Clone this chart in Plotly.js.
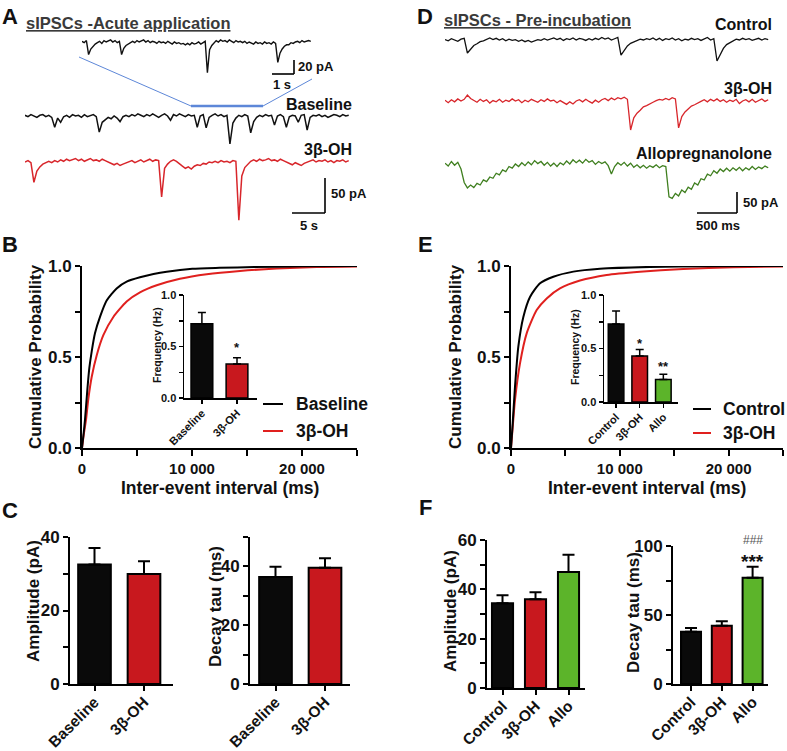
<!DOCTYPE html>
<html><head><meta charset="utf-8">
<script src="https://cdn.plot.ly/plotly-3.0.1.min.js"></script>
<style>html,body{margin:0;padding:0;background:#fff}#chart{width:787px;height:751px}</style>
</head><body><div id="chart"></div>
<script>
// ---------------- DATA ----------------
// Panel A: traces (pA relative to holding baseline), sampled at fixed steps
const dtInsetA = 0.1;   // s
const insetA = [1,-1,2,-18,-10,-6,-3,-1,1,-2,2,0,1,3,0,2,-1,1,-18,-9,-5,-3,-1,1,-1,2,0,1,3,0,2,-1,1,0,-2,1,-1,0,-2,1,-1,-3,0,-2,-1,-3,-2,-4,-2,-4,-1,-3,-2,0,-3,-1,1,-44,-11,-5,-1,2,0,3,1,2,0,3,1,-1,2,0,1,-1,1,-2,0,-1,-3,0,-2,-1,-3,0,-2,-1,-3,0,-2,-29,-16,-10,-6,-4,-4,-1,-2,0,1,-1,2,0,1,2,1];
const dtA = 0.45;       // s
const baselineA = [1,-1,2,0,-2,1,2,-1,1,-2,-16,-3,-9,-1,1,-2,2,0,1,-2,2,-1,0,2,-1,-23,-9,-6,-2,-4,0,-3,-8,-1,1,-1,2,0,3,1,-1,2,0,3,1,-2,1,3,0,-6,2,0,3,1,-1,2,0,1,-16,0,2,-17,-2,1,3,0,2,-1,1,-40,-10,-3,1,-1,2,0,-24,-8,-2,1,-1,2,0,1,-13,0,2,-1,-16,-1,1,0,-9,1,2,-20,-2,1,0,2,-1,1,-2,0,2,1,-1,2,0,1];
const betaA = [0,2,-1,-29,-13,-7,-3,-1,1,-1,2,0,3,1,4,2,3,5,2,4,1,3,5,2,3,1,4,2,0,-2,-4,-2,-5,-3,-1,0,2,-1,1,3,0,2,4,1,3,2,-50,-9,-3,1,3,1,-3,-6,-9,-7,-10,-6,-4,-5,-2,-3,0,-1,1,-1,2,0,1,-1,2,1,-83,-20,-8,-3,1,3,1,4,2,3,5,2,3,1,4,2,0,-2,-4,-1,-3,-5,-2,0,1,3,0,2,1,3,0,2,-1,2,1,3,0,2];
// Panel D: traces
const dtD = 0.04;       // s
const controlD = [1,-2,3,0,-3,2,4,-31,-21,-13,-9,-4,-2,2,5,1,4,0,3,-2,2,-1,1,-3,0,-4,-1,-5,-2,1,-1,3,0,2,5,1,4,-1,3,1,5,0,4,2,-1,3,0,4,1,6,2,5,0,3,6,-36,-24,-14,-8,-4,-1,2,0,3,1,5,0,4,-1,3,1,5,0,3,-2,2,0,4,1,3,-1,2,6,0,3,-50,-33,-20,-11,-6,-2,2,0,4,1,3,-1,2,4,0,3,1];
const betaD = [2,-4,3,-2,5,0,4,14,6,2,-3,4,-1,3,-5,1,-2,4,-3,2,-1,5,0,3,-4,2,-2,4,0,-3,3,-1,5,0,2,-4,1,-3,-8,-2,-7,0,3,-2,4,-1,-5,2,-3,3,6,1,7,3,8,5,9,4,-69,-40,-29,-22,-14,-11,-6,-3,1,4,2,6,3,8,5,-64,-37,-26,-19,-12,-9,-4,-1,3,-2,4,0,5,-1,3,-3,2,-1,4,-6,0,3,-2,4,-3,2,5,-1,3];
const alloD = [2,-5,6,-3,4,-12,-44,-57,-50,-56,-46,-50,-38,-42,-31,-34,-22,-26,-14,-18,-6,-10,0,-6,3,-4,5,-2,8,1,6,-3,4,-5,2,-6,3,-2,7,0,10,3,9,2,11,4,8,-1,6,1,5,-4,-24,-6,3,-3,4,-5,2,-8,-2,-9,-3,-10,-4,-8,-2,-9,-4,-6,-78,-82,-70,-76,-62,-68,-55,-60,-45,-50,-35,-38,-24,-28,-16,-22,-12,-18,-10,-17,-9,-15,-8,-16,-9,-14,-6,-13,-7,-11,-5,-9];

// Panels B & E: cumulative probability of inter-event interval (ms)
const cumB_base_x = [0,130,270,485,667,880,1180,1636,2242,3150,4060,5270,6500,7700,10030,12500,15650,20000,25000];
const cumB_base_y = [0,0.07,0.154,0.32,0.44,0.53,0.63,0.72,0.81,0.877,0.914,0.938,0.956,0.969,0.985,0.99,0.994,0.998,1.0];
const cumB_beta_x = [0,150,364,576,880,1340,1940,2850,4060,5270,6790,8900,11340,14360,17700,21330,25000];
const cumB_beta_y = [0,0.07,0.154,0.27,0.39,0.51,0.62,0.72,0.805,0.855,0.894,0.93,0.955,0.973,0.986,0.994,0.997];
const cumE_ctrl_x = [0,150,368,674,1134,1746,2665,3890,5730,8180,12775,18000,25000];
const cumE_ctrl_y = [0,0.13,0.337,0.557,0.72,0.83,0.905,0.941,0.969,0.985,0.995,0.998,1.0];
const cumE_beta_x = [0,150,368,827,1440,2360,3280,4500,6340,8790,11850,15830,20430,25000];
const cumE_beta_y = [0,0.11,0.264,0.465,0.63,0.758,0.822,0.877,0.92,0.951,0.969,0.984,0.993,0.997];

// Inset frequency bars
const freqCatsB = ['Baseline','3β-OH'];
const freqB = [0.72,0.33];
const freqErrB = [0.11,0.06];
const freqCatsE = ['Control','3β-OH','Allo'];
const freqE = [0.73,0.43,0.21];
const freqErrE = [0.12,0.06,0.05];

// Panel C
const catsC = ['Baseline','3β-OH'];
const ampC = [32.5,29.9];
const ampErrC = [4.5,3.5];
const tauC = [36.4,39.5];
const tauErrC = [3.5,3.3];
// Panel F
const catsF = ['Control','3β-OH','Allo'];
const ampF = [34.4,36.0,47.0];
const ampErrF = [3.2,2.8,7.0];
const tauF = [37.8,42.2,77.0];
const tauErrF = [2.7,3.3,8.0];

// ---------------- LAYOUT HELPERS ----------------
const W = 787, H = 751;
const FONT = 'Liberation Sans, Arial, Helvetica, sans-serif';
const BLACK = '#0a0a0a', RED = '#c8181e', GREEN = '#5cb42a';
const RED_LINE = '#e0201e', RED_TRACE = '#d8262b', GREEN_TRACE = '#3f7f1f';
function dx(a,b){return [a/W, b/W];}
function dy(top,bottom){return [1-bottom/H, 1-top/H];}
function times(n,dt){const t=[];for(let i=0;i<n;i++)t.push(+(i*dt).toFixed(4));return t;}
function hiddenAxis(domain, range, anchor){
  return {domain, range, anchor, visible:false, showgrid:false, zeroline:false, fixedrange:true};
}
function zeros(n){return new Array(n).fill(0);}

const data = [];
const layout = {
  width: W, height: H, margin:{l:0,r:0,t:0,b:0},
  paper_bgcolor:'#fff', plot_bgcolor:'rgba(0,0,0,0)', showlegend:false,
  annotations: [], shapes: []
};

// ----- Panel A traces -----
layout.xaxis  = hiddenAxis(dx(82,312), [0, 230/22], 'y');
layout.yaxis  = hiddenAxis(dy(28,80), [-38/0.7, 14/0.7], 'x');
data.push({type:'scatter', mode:'lines', x: times(insetA.length, dtInsetA), y: insetA,
  xaxis:'x', yaxis:'y', line:{color:'#111', width:1.4}, hoverinfo:'skip'});

layout.xaxis2 = hiddenAxis(dx(25,352), [0, 327/6.6], 'y2');
layout.yaxis2 = hiddenAxis(dy(100,150), [-34/0.7, 16/0.7], 'x2');
data.push({type:'scatter', mode:'lines', x: times(baselineA.length, dtA), y: baselineA,
  xaxis:'x2', yaxis:'y2', line:{color:'#111', width:1.5}, hoverinfo:'skip'});

layout.xaxis3 = hiddenAxis(dx(25,352), [0, 327/6.6], 'y3');
layout.yaxis3 = hiddenAxis(dy(150,228), [-66/0.7, 12/0.7], 'x3');
data.push({type:'scatter', mode:'lines', x: times(betaA.length, dtA), y: betaA,
  xaxis:'x3', yaxis:'y3', line:{color:RED_TRACE, width:1.5}, hoverinfo:'skip'});

// ----- Panel D traces -----
layout.xaxis4 = hiddenAxis(dx(445,772), [0, 327/80], 'y4');
layout.yaxis4 = hiddenAxis(dy(28,68), [-28/0.42, 12/0.42], 'x4');
data.push({type:'scatter', mode:'lines', x: times(controlD.length, dtD), y: controlD,
  xaxis:'x4', yaxis:'y4', line:{color:'#111', width:1.3}, hoverinfo:'skip'});
layout.xaxis5 = hiddenAxis(dx(445,772), [0, 327/80], 'y5');
layout.yaxis5 = hiddenAxis(dy(88,135), [-34/0.42, 13/0.42], 'x5');
data.push({type:'scatter', mode:'lines', x: times(betaD.length, dtD), y: betaD,
  xaxis:'x5', yaxis:'y5', line:{color:RED_TRACE, width:1.3}, hoverinfo:'skip'});
layout.xaxis6 = hiddenAxis(dx(445,772), [0, 327/80], 'y6');
layout.yaxis6 = hiddenAxis(dy(140,228), [-64/0.42, 24/0.42], 'x6');
data.push({type:'scatter', mode:'lines', x: times(alloD.length, dtD), y: alloD,
  xaxis:'x6', yaxis:'y6', line:{color:GREEN_TRACE, width:1.3}, hoverinfo:'skip'});

// scale bars (in trace data coords)
function scaleBar(xr, yr, x0, x1, y0, y1){
  layout.shapes.push({type:'line', xref:xr, yref:yr, x0:x1, x1:x1, y0:y0, y1:y1, line:{color:'#000', width:1.6}});
  layout.shapes.push({type:'line', xref:xr, yref:yr, x0:x0, x1:x1, y0:y1, y1:y1, line:{color:'#000', width:1.6}});
}
scaleBar('x','y', (294-82)/22-1, (294-82)/22, -(60-42)/0.7, -(60-42)/0.7-20);
scaleBar('x3','y3', (325-25)/6.6-5, (325-25)/6.6, -(178-162)/0.7, -(178-162)/0.7-50);
scaleBar('x6','y6', (737-445)/80-0.5, (737-445)/80, -(192-164)/0.42, -(192-164)/0.42-50);

// blue zoom lines
const BLUE = '#5d87d8';
function pline(x0,y0,x1,y1,w,c){layout.shapes.push({type:'line',xref:'paper',yref:'paper',x0:x0/W,x1:x1/W,y0:1-y0/H,y1:1-y1/H,line:{color:c,width:w}});}
pline(79,57,191,106,1,BLUE);
pline(312,79,263,106,1,BLUE);
pline(191,106,263,106,2.6,BLUE);

// ----- Panels B & E cumulative -----
function mainAxes(xd, yd){
  const ax = {domain:xd, range:[0,25000], showline:true, linewidth:2, linecolor:'#000', mirror:false,
    ticks:'outside', ticklen:6, tickwidth:2, tickcolor:'#000', showgrid:false, zeroline:false, fixedrange:true,
    tickmode:'array', tickvals:[0,10000,20000], ticktext:['0','10 000','20 000'],
    minor:{tickmode:'linear', tick0:0, dtick:5000, ticks:'outside', ticklen:6, tickwidth:2, tickcolor:'#000'},
    tickfont:{family:FONT, size:15, color:'#111', weight:700}};
  const ay = {domain:yd, range:[0,1], showline:true, linewidth:2, linecolor:'#000',
    ticks:'outside', ticklen:5, tickwidth:2, tickcolor:'#000', showgrid:false, zeroline:false, fixedrange:true,
    tickmode:'linear', tick0:0, dtick:0.5, tickformat:'.1f',
    minor:{tickmode:'linear', tick0:0, dtick:0.25, ticks:'outside', ticklen:5, tickwidth:2, tickcolor:'#000'},
    tickfont:{family:FONT, size:17, color:'#111', weight:700}};
  return [ax, ay];
}
[layout.xaxis7, layout.yaxis7] = mainAxes(dx(82,357), dy(266,448));
layout.xaxis7.anchor='y7'; layout.yaxis7.anchor='x7';
[layout.xaxis8, layout.yaxis8] = mainAxes(dx(511,783), dy(266,448));
layout.xaxis8.anchor='y8'; layout.yaxis8.anchor='x8';

data.push({type:'scatter', mode:'lines', x:cumB_beta_x, y:cumB_beta_y, xaxis:'x7', yaxis:'y7',
  line:{color:RED_LINE, width:2, shape:'spline', smoothing:0.6}, hoverinfo:'skip'});
data.push({type:'scatter', mode:'lines', x:cumB_base_x, y:cumB_base_y, xaxis:'x7', yaxis:'y7',
  line:{color:'#000', width:2, shape:'spline', smoothing:0.6}, hoverinfo:'skip'});
data.push({type:'scatter', mode:'lines', x:cumE_beta_x, y:cumE_beta_y, xaxis:'x8', yaxis:'y8',
  line:{color:RED_LINE, width:2, shape:'spline', smoothing:0.6}, hoverinfo:'skip'});
data.push({type:'scatter', mode:'lines', x:cumE_ctrl_x, y:cumE_ctrl_y, xaxis:'x8', yaxis:'y8',
  line:{color:'#000', width:2, shape:'spline', smoothing:0.6}, hoverinfo:'skip'});

// ----- Bar chart helper -----
function barAxes(xd, yd, xr, yr, dtick, minorDtick, tickSize, xTickSize, lw, tl, standoff){
  const ax = {domain:xd, range:xr, type:'category', showline:true, linewidth:lw, linecolor:'#000',
    ticks:'outside', ticklen:tl, tickwidth:lw, tickcolor:'#000', showgrid:false, zeroline:false, fixedrange:true,
    tickangle:-45, ticklabelstandoff:standoff, tickfont:{family:FONT, size:xTickSize, color:'#111', weight:700}};
  const ay = {domain:yd, range:yr, showline:true, linewidth:lw, linecolor:'#000',
    ticks:'outside', ticklen:tl, tickwidth:lw, tickcolor:'#000', showgrid:false, zeroline:false, fixedrange:true,
    tickmode:'linear', tick0:0, dtick:dtick,
    minor:{tickmode:'linear', tick0:0, dtick:minorDtick, ticks:'outside', ticklen:tl, tickwidth:lw, tickcolor:'#000'},
    tickfont:{family:FONT, size:tickSize, color:'#111', weight:700}};
  return [ax, ay];
}
function barTrace(cats, vals, errs, colors, xa, ya, width, lw, capw){
  return {type:'bar', x:cats, y:vals, xaxis:xa, yaxis:ya, width:width,
    marker:{color:colors, line:{color:'#000', width:lw}},
    error_y:{type:'data', array:errs, arrayminus:zeros(errs.length), symmetric:false, color:'#000', thickness:lw, width:capw},
    hoverinfo:'skip'};
}

// Inset B
[layout.xaxis9, layout.yaxis9] = barAxes(dx(184,257), dy(295,398), [-0.51,1.57], [0,1], 0.5, 0.25, 11, 11, 1.5, 4, -1);
layout.xaxis9.anchor='y9'; layout.yaxis9.anchor='x9'; layout.yaxis9.tickformat='.1f';
data.push(barTrace(freqCatsB, freqB, freqErrB, [BLACK, RED], 'x9','y9', 0.62, 1.5, 4));
// Inset E
[layout.xaxis10, layout.yaxis10] = barAxes(dx(604,678), dy(295,402), [-0.51,2.62], [0,1], 0.5, 0.25, 11, 11, 1.5, 4, -1);
layout.xaxis10.anchor='y10'; layout.yaxis10.anchor='x10'; layout.yaxis10.tickformat='.1f';
data.push(barTrace(freqCatsE, freqE, freqErrE, [BLACK, RED, GREEN], 'x10','y10', 0.66, 1.5, 4));

// C amplitude
[layout.xaxis11, layout.yaxis11] = barAxes(dx(70,173), dy(537,684), [-0.495,1.586], [0,40], 20, 10, 17, 15.5, 2, 5, -4);
layout.xaxis11.anchor='y11'; layout.yaxis11.anchor='x11';
data.push(barTrace(catsC, ampC, ampErrC, [BLACK, RED], 'x11','y11', 0.66, 2, 6));
// C decay
[layout.xaxis12, layout.yaxis12] = barAxes(dx(250,350), dy(537,684), [-0.515,1.505], [0,50], 20, 10, 17, 15.5, 2, 5, -4);
layout.xaxis12.anchor='y12'; layout.yaxis12.anchor='x12';
data.push(barTrace(catsC, tauC, tauErrC, [BLACK, RED], 'x12','y12', 0.66, 2, 6));
// F amplitude
[layout.xaxis13, layout.yaxis13] = barAxes(dx(487,585), dy(540,688), [-0.47,2.5], [0,60], 20, 10, 17, 15.5, 2, 5, -4);
layout.xaxis13.anchor='y13'; layout.yaxis13.anchor='x13';
data.push(barTrace(catsF, ampF, ampErrF, [BLACK, RED, GREEN], 'x13','y13', 0.64, 2, 6));
// F decay
[layout.xaxis14, layout.yaxis14] = barAxes(dx(673,768), dy(546,684), [-0.585,2.5], [0,100], 50, 25, 17, 15.5, 2, 5, -4);
layout.xaxis14.anchor='y14'; layout.yaxis14.anchor='x14';
data.push(barTrace(catsF, tauF, tauErrF, [BLACK, RED, GREEN], 'x14','y14', 0.65, 2, 6));

// ----- Text -----
function T(text, x, y, size, opt){
  const o = Object.assign({xanchor:'center', yanchor:'middle', angle:0, color:'#111', weight:700}, opt||{});
  layout.annotations.push({xref:'paper', yref:'paper', x:x/W, y:1-y/H, text:text, showarrow:false,
    xanchor:o.xanchor, yanchor:o.yanchor, textangle:o.angle, borderpad:0,
    font:{family:FONT, size:size, color:o.color, weight:o.weight}});
}
// panel letters
T('A', 10, 16, 22); T('B', 10, 245, 22); T('C', 10, 510, 22);
T('D', 425, 16, 22); T('E', 425, 245, 22); T('F', 425, 507, 22);
// panel A texts
T('<u>sIPSCs -Acute application</u>', 25, 23, 16.5, {xanchor:'left', color:'#3a3a3a'});
T('Baseline', 353, 104, 16, {xanchor:'right'});
T('3β-OH', 353, 150, 16, {xanchor:'right'});
T('20 pA', 297, 67, 13, {xanchor:'left'});
T('1 s', 282, 85, 13);
T('50 pA', 330, 193, 13, {xanchor:'left'});
T('5 s', 309, 226, 13);
// panel D texts
T('<u>sIPSCs - Pre-incubation</u>', 443, 20, 16.5, {xanchor:'left', color:'#3a3a3a'});
T('Control', 773, 25, 16, {xanchor:'right'});
T('3β-OH', 773, 88, 16, {xanchor:'right'});
T('Allopregnanolone', 773, 153, 16, {xanchor:'right'});
T('50 pA', 742, 202, 13, {xanchor:'left'});
T('500 ms', 718, 226, 13);
// B/E titles
T('Cumulative Probability', 35, 357, 17, {angle:-90});
T('Cumulative Probability', 455, 357, 17, {angle:-90});
T('Inter-event interval (ms)', 220, 488, 17.5);
T('Inter-event interval (ms)', 647, 488, 17.5);
T('Frequency (Hz)', 157, 345, 10.5, {angle:-90});
T('Frequency (Hz)', 575, 347, 10.5, {angle:-90});
// legends B/E
pline(263,404,283,404,2,'#000'); pline(263,431,283,431,2,RED_LINE);
T('Baseline', 295, 404, 17.5, {xanchor:'left'}); T('3β-OH', 295, 431, 17.5, {xanchor:'left'});
pline(693,409,711,409,2,'#000'); pline(693,433,711,433,2,RED_LINE);
T('Control', 722, 409, 17.5, {xanchor:'left'}); T('3β-OH', 722, 433, 17.5, {xanchor:'left'});
// stars
T('*', 237, 347, 13); T('*', 639.5, 343, 13); T('**', 663.5, 366, 13);
T('***', 752.5, 561, 19); T('###', 752.5, 540, 12, {weight:400, color:'#555'});
// C/F y titles
T('Amplitude (pA)', 33, 601, 17, {angle:-90});
T('Decay tau (ms)', 215, 607, 17, {angle:-90});
T('Amplitude (pA)', 450, 611, 17, {angle:-90});
T('Decay tau (ms)', 633, 613, 17, {angle:-90});

Plotly.newPlot('chart', data, layout, {staticPlot:true, displayModeBar:false});
</script></body></html>
